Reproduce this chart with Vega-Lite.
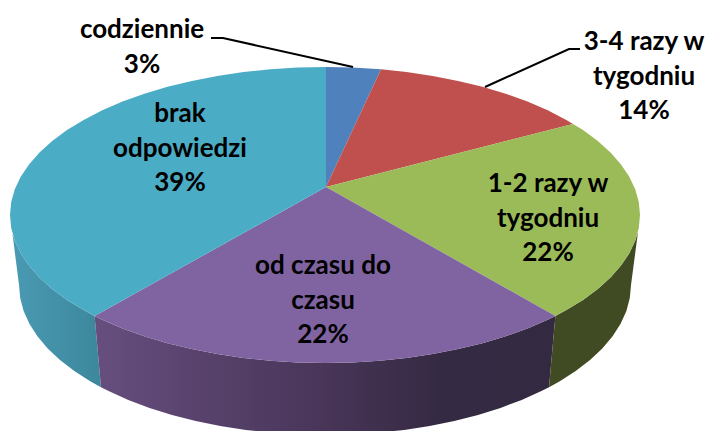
{"$schema":"https://vega.github.io/schema/vega-lite/v6.json","width":705,"height":431,"padding":0,"autosize":"none","background":"white","view":{"stroke":null},
"datasets":{
"sides":[
{"slice":"brak odpowiedzi","i":0,"x":94.6,"y":316},{"slice":"brak odpowiedzi","i":1,"x":83.7,"y":310.1},{"slice":"brak odpowiedzi","i":2,"x":67,"y":299.9},{"slice":"brak odpowiedzi","i":3,"x":52.2,"y":289},{"slice":"brak odpowiedzi","i":4,"x":39.5,"y":277.5},{"slice":"brak odpowiedzi","i":5,"x":29,"y":265.6},{"slice":"brak odpowiedzi","i":6,"x":20.7,"y":253.3},{"slice":"brak odpowiedzi","i":7,"x":14.8,"y":240.7},{"slice":"brak odpowiedzi","i":8,"x":12.5,"y":234},{"slice":"brak odpowiedzi","i":9,"x":19,"y":285},{"slice":"brak odpowiedzi","i":10,"x":20.2,"y":298.1},{"slice":"brak odpowiedzi","i":11,"x":23.6,"y":311},{"slice":"brak odpowiedzi","i":12,"x":29.4,"y":323.8},{"slice":"brak odpowiedzi","i":13,"x":37.4,"y":336.3},{"slice":"brak odpowiedzi","i":14,"x":47.7,"y":348.4},{"slice":"brak odpowiedzi","i":15,"x":60,"y":360},{"slice":"brak odpowiedzi","i":16,"x":74.3,"y":371},{"slice":"brak odpowiedzi","i":17,"x":90.6,"y":381.4},{"slice":"brak odpowiedzi","i":18,"x":101,"y":387.3},
{"slice":"od czasu do czasu","i":0,"x":94.6,"y":316},{"slice":"od czasu do czasu","i":1,"x":102.3,"y":319.7},{"slice":"od czasu do czasu","i":2,"x":122.5,"y":328.4},{"slice":"od czasu do czasu","i":3,"x":144.3,"y":336.2},{"slice":"od czasu do czasu","i":4,"x":167.5,"y":343.2},{"slice":"od czasu do czasu","i":5,"x":191.9,"y":349.1},{"slice":"od czasu do czasu","i":6,"x":217.3,"y":354},{"slice":"od czasu do czasu","i":7,"x":243.5,"y":358},{"slice":"od czasu do czasu","i":8,"x":270.3,"y":360.8},{"slice":"od czasu do czasu","i":9,"x":297.5,"y":362.4},{"slice":"od czasu do czasu","i":10,"x":325,"y":363},{"slice":"od czasu do czasu","i":11,"x":352.5,"y":362.4},{"slice":"od czasu do czasu","i":12,"x":379.7,"y":360.8},{"slice":"od czasu do czasu","i":13,"x":406.5,"y":358},{"slice":"od czasu do czasu","i":14,"x":432.7,"y":354},{"slice":"od czasu do czasu","i":15,"x":458.1,"y":349.1},{"slice":"od czasu do czasu","i":16,"x":482.5,"y":343.2},{"slice":"od czasu do czasu","i":17,"x":505.7,"y":336.2},{"slice":"od czasu do czasu","i":18,"x":527.5,"y":328.4},{"slice":"od czasu do czasu","i":19,"x":547.7,"y":319.7},{"slice":"od czasu do czasu","i":20,"x":555.4,"y":316},{"slice":"od czasu do czasu","i":21,"x":549,"y":387.3},{"slice":"od czasu do czasu","i":22,"x":541.4,"y":391.1},{"slice":"od czasu do czasu","i":23,"x":521.7,"y":399.9},{"slice":"od czasu do czasu","i":24,"x":500.5,"y":407.9},{"slice":"od czasu do czasu","i":25,"x":478,"y":414.9},{"slice":"od czasu do czasu","i":26,"x":454.3,"y":420.9},{"slice":"od czasu do czasu","i":27,"x":429.7,"y":426},{"slice":"od czasu do czasu","i":28,"x":404.2,"y":429.9},{"slice":"od czasu do czasu","i":29,"x":378.1,"y":432.7},{"slice":"od czasu do czasu","i":30,"x":351.7,"y":434.4},{"slice":"od czasu do czasu","i":31,"x":325,"y":435},{"slice":"od czasu do czasu","i":32,"x":298.3,"y":434.4},{"slice":"od czasu do czasu","i":33,"x":271.9,"y":432.7},{"slice":"od czasu do czasu","i":34,"x":245.8,"y":429.9},{"slice":"od czasu do czasu","i":35,"x":220.3,"y":426},{"slice":"od czasu do czasu","i":36,"x":195.7,"y":420.9},{"slice":"od czasu do czasu","i":37,"x":172,"y":414.9},{"slice":"od czasu do czasu","i":38,"x":149.5,"y":407.9},{"slice":"od czasu do czasu","i":39,"x":128.3,"y":399.9},{"slice":"od czasu do czasu","i":40,"x":108.6,"y":391.1},{"slice":"od czasu do czasu","i":41,"x":101,"y":387.3},
{"slice":"1-2 razy w tygodniu","i":0,"x":555.4,"y":316},{"slice":"1-2 razy w tygodniu","i":1,"x":566.3,"y":310.1},{"slice":"1-2 razy w tygodniu","i":2,"x":583,"y":299.9},{"slice":"1-2 razy w tygodniu","i":3,"x":597.8,"y":289},{"slice":"1-2 razy w tygodniu","i":4,"x":610.5,"y":277.5},{"slice":"1-2 razy w tygodniu","i":5,"x":621,"y":265.6},{"slice":"1-2 razy w tygodniu","i":6,"x":629.3,"y":253.3},{"slice":"1-2 razy w tygodniu","i":7,"x":635.2,"y":240.7},{"slice":"1-2 razy w tygodniu","i":8,"x":638,"y":232},{"slice":"1-2 razy w tygodniu","i":9,"x":631,"y":285},{"slice":"1-2 razy w tygodniu","i":10,"x":629.8,"y":298.1},{"slice":"1-2 razy w tygodniu","i":11,"x":626.4,"y":311},{"slice":"1-2 razy w tygodniu","i":12,"x":620.6,"y":323.8},{"slice":"1-2 razy w tygodniu","i":13,"x":612.6,"y":336.3},{"slice":"1-2 razy w tygodniu","i":14,"x":602.3,"y":348.4},{"slice":"1-2 razy w tygodniu","i":15,"x":590,"y":360},{"slice":"1-2 razy w tygodniu","i":16,"x":575.7,"y":371},{"slice":"1-2 razy w tygodniu","i":17,"x":559.4,"y":381.4},{"slice":"1-2 razy w tygodniu","i":18,"x":549,"y":387.3}
],
"top":[
{"slice":"codziennie","i":0,"x":326,"y":187},{"slice":"codziennie","i":1,"x":326,"y":67},{"slice":"codziennie","i":2,"x":352.5,"y":67.6},{"slice":"codziennie","i":3,"x":381,"y":69.3},
{"slice":"3-4 razy w tygodniu","i":0,"x":326,"y":187},{"slice":"3-4 razy w tygodniu","i":1,"x":381,"y":69.3},{"slice":"3-4 razy w tygodniu","i":2,"x":406.5,"y":72},{"slice":"3-4 razy w tygodniu","i":3,"x":432.7,"y":76},{"slice":"3-4 razy w tygodniu","i":4,"x":458.1,"y":80.9},{"slice":"3-4 razy w tygodniu","i":5,"x":482.5,"y":86.8},{"slice":"3-4 razy w tygodniu","i":6,"x":505.7,"y":93.8},{"slice":"3-4 razy w tygodniu","i":7,"x":527.5,"y":101.6},{"slice":"3-4 razy w tygodniu","i":8,"x":547.7,"y":110.3},{"slice":"3-4 razy w tygodniu","i":9,"x":566.3,"y":119.9},{"slice":"3-4 razy w tygodniu","i":10,"x":573,"y":124},
{"slice":"1-2 razy w tygodniu","i":0,"x":326,"y":187},{"slice":"1-2 razy w tygodniu","i":1,"x":573,"y":124},{"slice":"1-2 razy w tygodniu","i":2,"x":583,"y":130.1},{"slice":"1-2 razy w tygodniu","i":3,"x":597.8,"y":141},{"slice":"1-2 razy w tygodniu","i":4,"x":610.5,"y":152.5},{"slice":"1-2 razy w tygodniu","i":5,"x":621,"y":164.4},{"slice":"1-2 razy w tygodniu","i":6,"x":629.3,"y":176.7},{"slice":"1-2 razy w tygodniu","i":7,"x":635.2,"y":189.3},{"slice":"1-2 razy w tygodniu","i":8,"x":638.8,"y":202.1},{"slice":"1-2 razy w tygodniu","i":9,"x":640,"y":215},{"slice":"1-2 razy w tygodniu","i":10,"x":638.8,"y":227.9},{"slice":"1-2 razy w tygodniu","i":11,"x":635.2,"y":240.7},{"slice":"1-2 razy w tygodniu","i":12,"x":629.3,"y":253.3},{"slice":"1-2 razy w tygodniu","i":13,"x":621,"y":265.6},{"slice":"1-2 razy w tygodniu","i":14,"x":610.5,"y":277.5},{"slice":"1-2 razy w tygodniu","i":15,"x":597.8,"y":289},{"slice":"1-2 razy w tygodniu","i":16,"x":583,"y":299.9},{"slice":"1-2 razy w tygodniu","i":17,"x":566.3,"y":310.1},{"slice":"1-2 razy w tygodniu","i":18,"x":555.4,"y":316},
{"slice":"od czasu do czasu","i":0,"x":326,"y":187},{"slice":"od czasu do czasu","i":1,"x":555.4,"y":316},{"slice":"od czasu do czasu","i":2,"x":547.7,"y":319.7},{"slice":"od czasu do czasu","i":3,"x":527.5,"y":328.4},{"slice":"od czasu do czasu","i":4,"x":505.7,"y":336.2},{"slice":"od czasu do czasu","i":5,"x":482.5,"y":343.2},{"slice":"od czasu do czasu","i":6,"x":458.1,"y":349.1},{"slice":"od czasu do czasu","i":7,"x":432.7,"y":354},{"slice":"od czasu do czasu","i":8,"x":406.5,"y":358},{"slice":"od czasu do czasu","i":9,"x":379.7,"y":360.8},{"slice":"od czasu do czasu","i":10,"x":352.5,"y":362.4},{"slice":"od czasu do czasu","i":11,"x":325,"y":363},{"slice":"od czasu do czasu","i":12,"x":297.5,"y":362.4},{"slice":"od czasu do czasu","i":13,"x":270.3,"y":360.8},{"slice":"od czasu do czasu","i":14,"x":243.5,"y":358},{"slice":"od czasu do czasu","i":15,"x":217.3,"y":354},{"slice":"od czasu do czasu","i":16,"x":191.9,"y":349.1},{"slice":"od czasu do czasu","i":17,"x":167.5,"y":343.2},{"slice":"od czasu do czasu","i":18,"x":144.3,"y":336.2},{"slice":"od czasu do czasu","i":19,"x":122.5,"y":328.4},{"slice":"od czasu do czasu","i":20,"x":102.3,"y":319.7},{"slice":"od czasu do czasu","i":21,"x":94.6,"y":316},
{"slice":"brak odpowiedzi","i":0,"x":326,"y":187},{"slice":"brak odpowiedzi","i":1,"x":94.6,"y":316},{"slice":"brak odpowiedzi","i":2,"x":83.7,"y":310.1},{"slice":"brak odpowiedzi","i":3,"x":67,"y":299.9},{"slice":"brak odpowiedzi","i":4,"x":52.2,"y":289},{"slice":"brak odpowiedzi","i":5,"x":39.5,"y":277.5},{"slice":"brak odpowiedzi","i":6,"x":29,"y":265.6},{"slice":"brak odpowiedzi","i":7,"x":20.7,"y":253.3},{"slice":"brak odpowiedzi","i":8,"x":14.8,"y":240.7},{"slice":"brak odpowiedzi","i":9,"x":11.2,"y":227.9},{"slice":"brak odpowiedzi","i":10,"x":10,"y":215},{"slice":"brak odpowiedzi","i":11,"x":11.2,"y":202.1},{"slice":"brak odpowiedzi","i":12,"x":14.8,"y":189.3},{"slice":"brak odpowiedzi","i":13,"x":20.7,"y":176.7},{"slice":"brak odpowiedzi","i":14,"x":29,"y":164.4},{"slice":"brak odpowiedzi","i":15,"x":39.5,"y":152.5},{"slice":"brak odpowiedzi","i":16,"x":52.2,"y":141},{"slice":"brak odpowiedzi","i":17,"x":67,"y":130.1},{"slice":"brak odpowiedzi","i":18,"x":83.7,"y":119.9},{"slice":"brak odpowiedzi","i":19,"x":102.3,"y":110.3},{"slice":"brak odpowiedzi","i":20,"x":122.5,"y":101.6},{"slice":"brak odpowiedzi","i":21,"x":144.3,"y":93.8},{"slice":"brak odpowiedzi","i":22,"x":167.5,"y":86.8},{"slice":"brak odpowiedzi","i":23,"x":191.9,"y":80.9},{"slice":"brak odpowiedzi","i":24,"x":217.3,"y":76},{"slice":"brak odpowiedzi","i":25,"x":243.5,"y":72},{"slice":"brak odpowiedzi","i":26,"x":270.3,"y":69.2},{"slice":"brak odpowiedzi","i":27,"x":297.5,"y":67.6},{"slice":"brak odpowiedzi","i":28,"x":326,"y":67}
],
"leaders":[
{"slice":"codziennie","i":0,"x":211,"y":38},{"slice":"codziennie","i":1,"x":223,"y":38},{"slice":"codziennie","i":2,"x":353,"y":67},
{"slice":"3-4 razy w tygodniu","i":0,"x":580,"y":49},{"slice":"3-4 razy w tygodniu","i":1,"x":569,"y":49},{"slice":"3-4 razy w tygodniu","i":2,"x":485,"y":87}
],
"labels":[
{"slice":"codziennie","percent":3,"label":["codziennie","3%"],"x":142,"y":30},
{"slice":"3-4 razy w tygodniu","percent":14,"label":["3-4 razy w","tygodniu","14%"],"x":644,"y":42},
{"slice":"1-2 razy w tygodniu","percent":22,"label":["1-2 razy w","tygodniu","22%"],"x":548,"y":184},
{"slice":"od czasu do czasu","percent":22,"label":["od czasu do","czasu","22%"],"x":323,"y":266},
{"slice":"brak odpowiedzi","percent":39,"label":["brak","odpowiedzi","39%"],"x":180,"y":114}
]
},
"encoding":{
"x":{"field":"x","type":"quantitative","scale":{"domain":[0,705],"nice":false,"zero":false},"axis":null},
"y":{"field":"y","type":"quantitative","scale":{"domain":[431,0],"nice":false,"zero":false},"axis":null}
},
"layer":[
{"data":{"name":"sides"},"transform":[{"filter":"datum.slice === 'brak odpowiedzi'"}],
"mark":{"type":"line","filled":true,"clip":true,"strokeWidth":0,"fill":{"gradient":"linear","x1":0,"y1":0,"x2":1,"y2":0,"stops":[{"offset":0,"color":"#4a9ab3"},{"offset":1,"color":"#3c879c"}]}},
"encoding":{"order":{"field":"i","type":"quantitative"}}},
{"data":{"name":"sides"},"transform":[{"filter":"datum.slice === 'od czasu do czasu'"}],
"mark":{"type":"line","filled":true,"clip":true,"strokeWidth":0,"fill":{"gradient":"linear","x1":0,"y1":0,"x2":1,"y2":0,"stops":[{"offset":0,"color":"#664e7e"},{"offset":0.5,"color":"#483558"},{"offset":0.75,"color":"#352a43"},{"offset":1,"color":"#332941"}]}},
"encoding":{"order":{"field":"i","type":"quantitative"}}},
{"data":{"name":"sides"},"transform":[{"filter":"datum.slice === '1-2 razy w tygodniu'"}],
"mark":{"type":"line","filled":true,"clip":true,"strokeWidth":0,"fill":"#404a23"},
"encoding":{"order":{"field":"i","type":"quantitative"}}},
{"data":{"name":"top"},
"mark":{"type":"line","filled":true,"clip":true,"strokeWidth":0},
"encoding":{"order":{"field":"i","type":"quantitative"},
"color":{"field":"slice","type":"nominal","legend":null,"scale":{"domain":["codziennie","3-4 razy w tygodniu","1-2 razy w tygodniu","od czasu do czasu","brak odpowiedzi"],"range":["#4f81bd","#c0504d","#9bbb59","#8064a2","#4bacc6"]}}}},
{"data":{"name":"leaders"},
"mark":{"type":"line","color":"black","strokeWidth":2},
"encoding":{"order":{"field":"i","type":"quantitative"},"detail":{"field":"slice"}}},
{"data":{"name":"labels"},
"mark":{"type":"text","font":"Lato","fontWeight":"bold","fontSize":26,"lineHeight":34.5,"align":"center","baseline":"middle","color":"black"},
"encoding":{"text":{"field":"label"}}}
]}
